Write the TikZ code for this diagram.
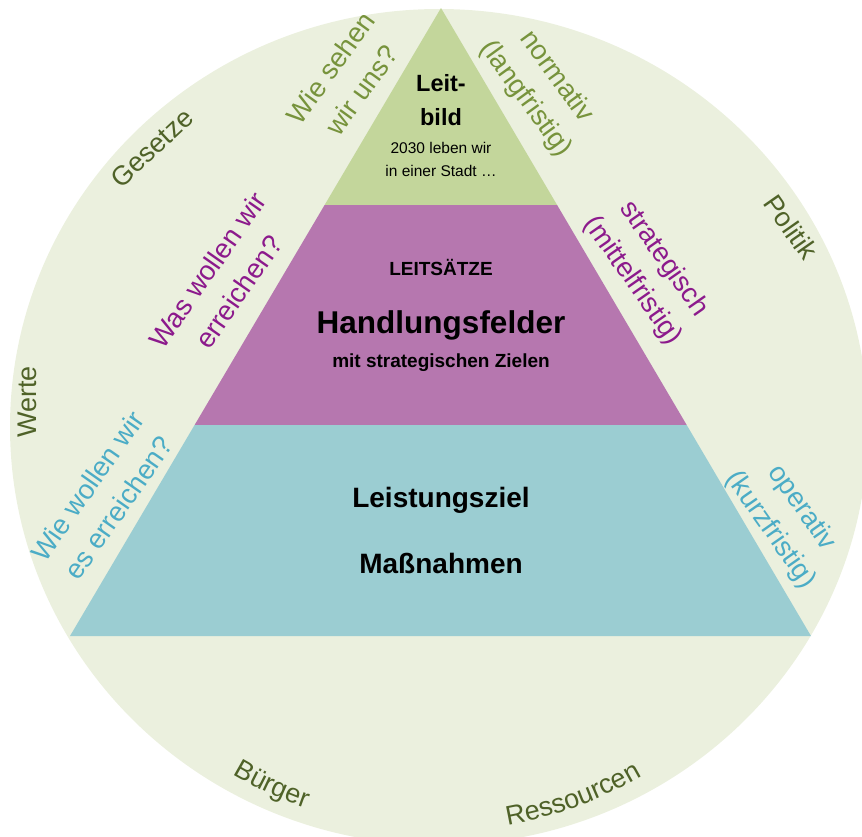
\documentclass[tikz,border=0pt]{standalone}
\usepackage{fontspec}
\setmainfont{Liberation Sans}
\usetikzlibrary{decorations.text}
\definecolor{bgc}{HTML}{EBF0DE}
\definecolor{leitc}{HTML}{C3D69B}
\definecolor{handc}{HTML}{B677AF}
\definecolor{leisc}{HTML}{9BCDD2}
\definecolor{olivet}{HTML}{77933C}
\definecolor{darkolive}{HTML}{4F6228}
\definecolor{purplet}{HTML}{8C1A8C}
\definecolor{bluet}{HTML}{4BACC6}
\begin{document}
\begin{tikzpicture}[x=1pt,y=1pt,
  sidelabel/.style={align=center, inner sep=0pt, font=\fontsize{27.5}{34}\selectfont},
  outerlabel/.style={inner sep=0pt, text=darkolive, font=\fontsize{27}{30}\selectfont},
  bigtext/.style={inner sep=0pt, anchor=base, font=\bfseries\fontsize{28}{30}\selectfont},
  headtext/.style={inner sep=0pt, anchor=base, font=\bfseries\fontsize{23.5}{25}\selectfont},
  hugetext/.style={inner sep=0pt, anchor=base, font=\bfseries\fontsize{31.5}{33}\selectfont},
  midtext/.style={inner sep=0pt, anchor=base, font=\bfseries\fontsize{19}{21}\selectfont},
  smalltext/.style={inner sep=0pt, anchor=base, font=\fontsize{15.5}{18}\selectfont},
  arctext/.style={decorate, decoration={text along path, text color=darkolive, text align=center}}
]
\useasboundingbox (0,0) rectangle (862,-836);
\clip (0,0) rectangle (862,-836);
\fill[bgc] (439,-427) ellipse [x radius=429, y radius=418];
\coordinate (apex) at (441,-8);
\coordinate (l1) at (324.6,-205);
\coordinate (r1) at (557.1,-205);
\coordinate (l2) at (194.6,-425);
\coordinate (r2) at (686.7,-425);
\coordinate (bl) at (70,-636);
\coordinate (br) at (811,-636);
\fill[leitc] (apex) -- (l1) -- (r1) -- cycle;
\fill[handc] (l1) -- (l2) -- (r2) -- (r1) -- cycle;
\fill[leisc] (l2) -- (bl) -- (br) -- (r2) -- cycle;
% inner texts
\node[headtext] (leit) at (441,-91) {Leit-};
\node[headtext] (bild) at (441,-125) {bild};
\node[smalltext] (vision1) at (441,-153) {2030 leben wir};
\node[smalltext] (vision2) at (441,-176) {in einer Stadt \dots};
\node[midtext] (leitsaetze) at (441,-275) {LEITSÄTZE};
\node[hugetext] (handlungsfelder) at (441,-333) {Handlungsfelder};
\node[midtext] (ziele) at (441,-367) {mit strategischen Zielen};
\node[bigtext] (leistungsziel) at (441,-507) {Leistungsziel};
\node[bigtext] (massnahmen) at (441,-573) {Maßnahmen};
% side labels
\node[sidelabel, text=olivet, rotate=54] (wiesehen) at (346,-79) {Wie sehen\\[4pt]wir uns?};
\node[sidelabel, text=olivet, rotate=-54] (normativ) at (541,-88) {normativ\\[4pt](langfristig)};
\node[sidelabel, text=purplet, rotate=55] (waswollen) at (223,-281) {Was wollen wir\\[4pt]erreichen?};
\node[sidelabel, text=purplet, rotate=-55] (strategisch) at (648,-270) {strategisch\\[4pt](mittelfristig)};
\node[sidelabel, text=bluet, rotate=55] (wiewollen) at (103,-497) {Wie wollen wir\\[4pt]es erreichen?};
\node[sidelabel, text=bluet, rotate=-55] (operativ) at (786,-519) {operativ\\[4pt](kurzfristig)};
% outer labels
\node[outerlabel, rotate=43] (gesetze) at (152,-148) {Gesetze};
\node[outerlabel, rotate=90] (werte) at (27,-402) {Werte};
\node[outerlabel, rotate=-55] (politik) at (791,-227) {Politik};
\path[arctext, decoration={text={|\fontsize{27}{30}\selectfont|Bürger}}] (439,-427) ++(225:404) arc[start angle=225, end angle=265, radius=404];
\path[arctext, decoration={text={|\fontsize{27}{30}\selectfont|Ressourcen}}] (439,-427) ++(270:404) arc[start angle=270, end angle=310, radius=404];
\end{tikzpicture}
\end{document}
